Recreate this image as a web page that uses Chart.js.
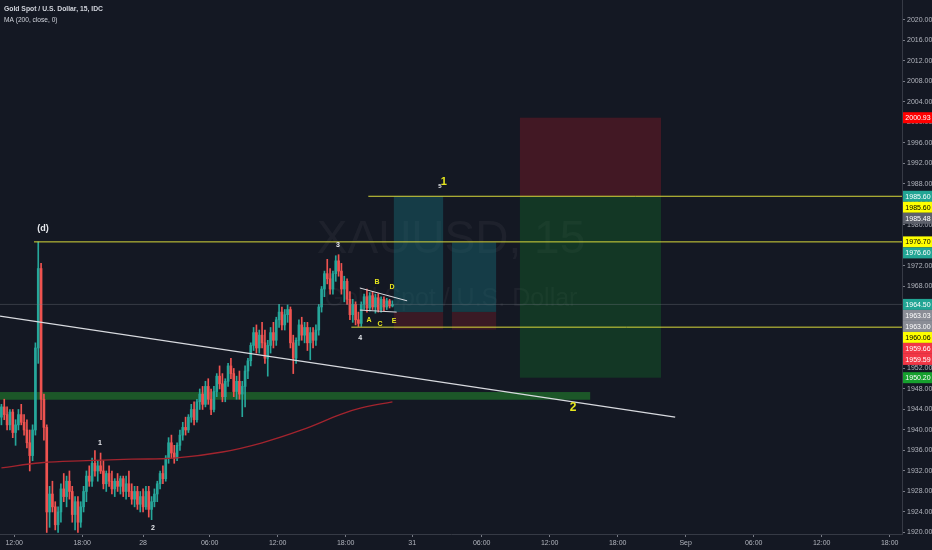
<!DOCTYPE html>
<html>
<head>
<meta charset="utf-8">
<script src="https://cdn.jsdelivr.net/npm/chart.js@4.4.0/dist/chart.umd.min.js"></script>
<style>
html, body { margin: 0; padding: 0; background: #141823; }
#wrap { width: 932px; height: 550px; }
</style>
</head>
<body>
<div id="wrap"><canvas id="chart" width="932" height="550"></canvas></div>
<script>
// --- 1. DATA (15 min bars, XAUUSD) ---
const opens = [1942.5,1944.5,1943,1941,1943.5,1939.5,1941,1943,1941.5,1940,1937.5,1935,1940,1956,1971.5,1946,1940.5,1924,1927.5,1925,
  1921.5,1924,1928.5,1927,1930,1928,1923.5,1926,1922,1925,1928,1931,1930,1933.5,1932,1933,1932,1929.5,1931.5,1930,
  1928.5,1930,1929,1930.5,1928,1929.5,1928,1926.5,1928,1925.5,1927,1925,1928,1924.5,1926,1927.5,1929.5,1931.5,1930.5,1934.5,
  1937.5,1935.5,1934.5,1937,1939,1940.5,1940,1942.5,1944,1942,1945.5,1947,1945,1948.5,1946,1944,1947.5,1950.5,1949,1946.5,
  1949.5,1952.5,1951,1947.5,1949.5,1947,1948.5,1951.5,1953.5,1956.5,1959,1956,1958.5,1957,1954,1956.5,1959,1957.5,1961.5,1963,
  1960.5,1962.5,1963.5,1957,1954,1957.5,1960.5,1958.5,1960,1957,1959,1957.5,1959.5,1964,1967.5,1970.5,1969.5,1967.5,1970.5,1973,
  1971,1967.5,1969,1965.5,1962.5,1964.5,1961.5,1960.8,1964.5,1966,1963.8,1966.2,1964,1965.8,1963.5,1965.5,1964,1965.2,1964.2];
const highs = [1945,1946,1944.5,1944,1944,1942,1944,1945,1943,1942,1940,1941,1957,1976.7,1972.5,1947,1941,1929,1930,1926,
  1925,1929.5,1931.5,1931,1932,1929,1927,1927,1926,1929,1932,1933,1934.5,1936,1934,1935.5,1934,1932,1933,1932,
  1930.5,1931.5,1931,1931,1931,1932,1929.5,1929,1929,1928,1928.5,1929,1929,1927,1928.5,1930,1932,1933,1935,1938.5,
  1939,1937,1937.5,1940,1941.5,1942.5,1943,1945,1945.5,1946,1948,1948.5,1949.5,1950,1948,1948.5,1951,1952.5,1951,1950,
  1953,1954,1952,1950.5,1951.5,1949.5,1952.5,1954,1957,1960,1960.5,1959.5,1961,1959.5,1957.5,1960,1961,1962,1964.5,1964,
  1963.5,1964.4,1964,1958.5,1958,1961.5,1962,1961,1961,1960,1960,1960.5,1964.5,1968,1971,1973.3,1971.5,1971,1974,1974.2,
  1972.5,1970,1969.5,1967,1965.5,1965,1963,1965,1966.5,1967.5,1966.8,1967,1966.5,1966.6,1966,1966,1965.7,1965.5,1965.2];
const lows = [1941,1942,1940,1940,1938.5,1937,1940,1941,1939,1936.5,1932,1934,1939,1953,1942,1938,1920,1921,1924,1920.5,
  1920,1922,1926,1925,1926.5,1922,1920.5,1920,1921,1924,1926,1929,1929,1931,1930,1931.5,1928.5,1928,1929,1927.5,
  1927,1928,1927.5,1927,1926.5,1927,1925.5,1925,1924.5,1924,1924,1924.5,1923,1922.5,1925,1926,1928.5,1929.5,1930,1933.5,
  1934.5,1933.5,1934,1936,1938,1939,1939.5,1941.5,1941,1941.5,1944,1944,1944.5,1945,1943,1943.5,1946.5,1948,1945.5,1945.5,
  1948.5,1950,1946.5,1946,1946,1942.6,1944.5,1950,1952.5,1955.5,1955,1955,1956,1953,1950.5,1955,1956,1956.5,1960,1959.5,
  1959.5,1961,1956,1951,1953,1956.5,1957.5,1957,1955.5,1953.7,1956,1956.5,1958.5,1963,1966,1968.5,1966.5,1966.5,1969,1970,
  1966.5,1965,1964.5,1961.5,1961,1960.5,1960.2,1960.2,1963.5,1963,1963.2,1963.5,1962.8,1963,1963,1963.3,1963.5,1963.8,1964];
const closes = [1944.5,1943,1941,1943.5,1939.5,1941,1943,1941.5,1940,1937.5,1935,1940,1956,1971.5,1946,1940.5,1924,1927.5,1925,1921.5,
  1924,1928.5,1927,1930,1928,1923.5,1926,1922,1925,1928,1931,1930,1933.5,1932,1933,1932,1929.5,1931.5,1930,1928.5,
  1930,1929,1930.5,1928,1929.5,1928,1926.5,1928,1925.5,1927,1925,1928,1924.5,1926,1927.5,1929.5,1931.5,1930.5,1934.5,1937.5,
  1935.5,1934.5,1937,1939,1940.5,1940,1942.5,1944,1942,1945.5,1947,1945,1948.5,1946,1944,1947.5,1950.5,1949,1946.5,1949.5,
  1952.5,1951,1947.5,1949.5,1947,1948.5,1951.5,1953.5,1956.5,1959,1956,1958.5,1957,1954,1956.5,1959,1957.5,1961.5,1963,1960.5,
  1962.5,1963.5,1957,1954,1957.5,1960.5,1958.5,1960,1957,1959,1957.5,1959.5,1964,1967.5,1970.5,1969.5,1967.5,1970.5,1973,1971,
  1967.5,1969,1965.5,1962.5,1964.5,1961.5,1960.8,1964.5,1966,1963.8,1966.2,1964,1965.8,1963.5,1965.5,1964,1965.2,1964.2,1964.5];

// MA(200) read at a few bars
const maBars = [0, 14, 30, 46, 61, 78, 92, 106, 120, 127, 138];
const maValues = [1932.6, 1933.6, 1934.0, 1934.3, 1934.5, 1935.7, 1937.5, 1940.0, 1943.1, 1944.3, 1945.5];

// axis ticks
const yTicks = [1920,1924,1928,1932,1936,1940,1944,1948,1952,1956,1960,1964,1968,1972,1976,1980,1984,1988,1992,1996,2000,2004,2008,2012,2016,2020];
const xTickBars = [5, 29, 50.5, 74, 98, 122, 145.5, 170, 194, 218, 242, 266, 290, 314];
const xTickLabels = ['12:00','18:00','28','06:00','12:00','18:00','31','06:00','12:00','18:00','Sep','06:00','12:00','18:00'];

// price labels on the right axis
const badgeValues = [2000.93, 1985.60, 1985.60, 1985.48, 1976.70, 1976.60, 1964.50, 1963.03, 1963.00, 1960.06, 1959.66, 1959.59, 1950.20];
const badgeColors = ['#ff0000','#22a594','#ffff00','#5d606b','#ffff00','#22a594','#22a594','#8a8d96','#8a8d96','#ffff00','#f23645','#f23645','#16a02e'];
const badgeText   = ['#fff','#fff','#000','#fff','#000','#fff','#fff','#fff','#fff','#000','#fff','#fff','#fff'];

// drawings
const levels = [ { v: 1985.60, from: 130 }, { v: 1976.70, from: 12 }, { v: 1960.06, from: 124 } ];
const X_MAX = 318.35;
const Y_MIN = 1919.7, Y_MAX = 2023.9;

// --- 2. HELPERS ---
const up = '#26a69a', down = '#ef5350';
const candleColors = closes.map((c, i) => c >= opens[i] ? up : down);

function lineSet(points, color, width) {
    return { type: 'line', data: points, borderColor: color, borderWidth: width,
             pointRadius: 0, fill: false, tension: 0, order: 1 };
}

const datasets = [];
// wicks + bodies
datasets.push({ type: 'bar', data: lows.map((l, i) => ({ x: i + 0.5, y: [l, highs[i]] })),
    backgroundColor: candleColors, barThickness: 1, grouped: false, order: 3 });
datasets.push({ type: 'bar', data: opens.map((o, i) => ({ x: i + 0.5, y: [o, closes[i]] })),
    backgroundColor: candleColors, barThickness: 2, grouped: false, minBarLength: 1, order: 2 });
// MA
datasets.push(Object.assign(lineSet(maBars.map((b, i) => ({ x: b + 0.5, y: maValues[i] })), '#a3242e', 1.3), { tension: 0.4 }));
// current price line
datasets.push(lineSet([{ x: 0, y: 1964.5 }, { x: X_MAX, y: 1964.5 }], 'rgba(120,123,134,0.35)', 1));
// yellow levels
levels.forEach(l => datasets.push(lineSet([{ x: l.from, y: l.v }, { x: X_MAX, y: l.v }], '#d8d83a', 1)));
// trend line + triangle
datasets.push(lineSet([{ x: 0, y: 1962.2 }, { x: 238.3, y: 1942.5 }], '#d8dadf', 1.2));
datasets.push(lineSet([{ x: 127, y: 1967.7 }, { x: 143.7, y: 1965.2 }], '#d8dadf', 1));
datasets.push(lineSet([{ x: 127, y: 1963.4 }, { x: 140, y: 1963.0 }], '#d8dadf', 1));

// boxes: position tool zones + support band
const boxes = [
    { x0: 0, x1: 208.3, top: 1947.4, bottom: 1945.9, color: 'rgba(35,140,45,0.55)' },
    { x0: 139, x1: 156.4, top: 1985.6, bottom: 1963.0, color: 'rgba(23,115,125,0.4)' },
    { x0: 139, x1: 156.4, top: 1963.0, bottom: 1959.66, color: 'rgba(140,30,45,0.32)' },
    { x0: 159.5, x1: 175.1, top: 1976.6, bottom: 1963.03, color: 'rgba(23,115,125,0.4)' },
    { x0: 159.5, x1: 175.1, top: 1963.03, bottom: 1959.59, color: 'rgba(140,30,45,0.32)' },
    { x0: 183.5, x1: 233.3, top: 2000.93, bottom: 1985.6, color: 'rgba(160,25,40,0.33)' },
    { x0: 183.5, x1: 233.3, top: 1985.6, bottom: 1950.2, color: 'rgba(20,120,45,0.32)' }
];

const notes = [
    { x: 15.2, y: 1979.4, t: '(d)', c: '#e6e8ec', s: 9, w: 'bold' },
    { x: 35.3, y: 1937.5, t: '1', c: '#e6e8ec', s: 7, w: 'bold' },
    { x: 54, y: 1920.9, t: '2', c: '#e6e8ec', s: 7, w: 'bold' },
    { x: 119.3, y: 1976.1, t: '3', c: '#e6e8ec', s: 7, w: 'bold' },
    { x: 127.1, y: 1958.0, t: '4', c: '#e6e8ec', s: 7, w: 'bold' },
    { x: 155.3, y: 1987.6, t: '5', c: '#e6e8ec', s: 6, w: 'bold' },
    { x: 156.6, y: 1988.3, t: '1', c: '#e6e61e', s: 11, w: 'bold' },
    { x: 202.3, y: 1944.3, t: '2', c: '#e6e61e', s: 12, w: 'bold' },
    { x: 130.2, y: 1961.5, t: 'A', c: '#e6e61e', s: 7, w: 'bold' },
    { x: 133.1, y: 1968.9, t: 'B', c: '#e6e61e', s: 7, w: 'bold' },
    { x: 134.1, y: 1960.7, t: 'C', c: '#e6e61e', s: 7, w: 'bold' },
    { x: 138.4, y: 1967.9, t: 'D', c: '#e6e61e', s: 7, w: 'bold' },
    { x: 139.1, y: 1961.3, t: 'E', c: '#e6e61e', s: 7, w: 'bold' }
];

const FONT = '"Liberation Sans", Arial, sans-serif';

// --- 3. PLUGINS ---
const drawingsPlugin = {
    id: 'drawings',
    beforeDraw(chart) {
        const { ctx, width, height, chartArea: a } = chart;
        ctx.save();
        ctx.fillStyle = '#141823';
        ctx.fillRect(0, 0, width, height);
        // watermark
        ctx.fillStyle = 'rgba(255,255,255,0.045)';
        ctx.textAlign = 'center';
        ctx.textBaseline = 'middle';
        const cx = (a.left + a.right) / 2;
        ctx.font = '46px ' + FONT;
        ctx.fillText('XAUUSD, 15', cx, 240);
        ctx.font = '25px ' + FONT;
        ctx.fillText('Gold Spot / U.S. Dollar', cx, 299);
        ctx.restore();
    },
    beforeDatasetsDraw(chart) {
        const { ctx, scales: { x, y } } = chart;
        ctx.save();
        boxes.forEach(b => {
            const x0 = x.getPixelForValue(b.x0), x1 = x.getPixelForValue(b.x1);
            const y0 = y.getPixelForValue(b.top), y1 = y.getPixelForValue(b.bottom);
            ctx.fillStyle = b.color;
            ctx.fillRect(x0, y0, x1 - x0, y1 - y0);
        });
        ctx.restore();
    },
    afterDatasetsDraw(chart) {
        const { ctx, scales: { x, y } } = chart;
        ctx.save();
        ctx.textAlign = 'center';
        ctx.textBaseline = 'middle';
        notes.forEach(n => {
            ctx.font = n.w + ' ' + n.s + 'px ' + FONT;
            ctx.fillStyle = n.c;
            ctx.fillText(n.t, x.getPixelForValue(n.x), y.getPixelForValue(n.y));
        });
        ctx.restore();
    },
    afterDraw(chart) {
        const { ctx, scales: { y } } = chart;
        ctx.save();
        // legend
        ctx.textAlign = 'left';
        ctx.textBaseline = 'middle';
        ctx.fillStyle = '#d1d4dc';
        ctx.font = 'bold 6.8px ' + FONT;
        ctx.fillText('Gold Spot / U.S. Dollar, 15, IDC', 4, 9);
        ctx.font = '6.6px ' + FONT;
        ctx.fillText('MA (200, close, 0)', 4, 20);
        // right axis price badges, stacked like TradingView does
        const h = 11;
        let last = -100;
        const left = y.left + 1;
        badgeValues.forEach((v, i) => {
            let cy = y.getPixelForValue(v);
            if (cy - last < h) cy = last + h;
            last = cy;
            ctx.fillStyle = badgeColors[i];
            ctx.fillRect(left, cy - h / 2, 932 - left, h);
            ctx.fillStyle = badgeText[i];
            ctx.font = '7px ' + FONT;
            ctx.textAlign = 'center';
            ctx.fillText(v.toFixed(2), left + 15, cy + 0.5);
        });
        ctx.restore();
    }
};

// --- 4. CHART ---
new Chart(document.getElementById('chart'), {
    data: { datasets: datasets },
    options: {
        responsive: false,
        animation: false,
        layout: { padding: 0 },
        plugins: { legend: { display: false }, tooltip: { enabled: false } },
        scales: {
            x: {
                type: 'linear', min: 0, max: X_MAX, offset: false,
                afterFit: s => { s.height = 16; s.paddingLeft = 0; s.paddingRight = 0; },
                afterBuildTicks: s => { s.ticks = xTickBars.map(v => ({ value: v })); },
                grid: { display: true, drawOnChartArea: false, drawTicks: true, tickLength: 3, color: '#787b86', offset: false },
                border: { display: true, color: '#363a45' },
                ticks: { autoSkip: false, maxRotation: 0, padding: 2, color: '#b2b5be',
                         font: { family: FONT, size: 7 },
                         callback: (v, i) => xTickLabels[i] }
            },
            y: {
                type: 'linear', position: 'right', min: Y_MIN, max: Y_MAX,
                afterFit: s => { s.width = 30; s.paddingTop = 0; s.paddingBottom = 0; },
                afterBuildTicks: s => { s.ticks = yTicks.map(v => ({ value: v })); },
                grid: { display: true, drawOnChartArea: false, drawTicks: true, tickLength: 3, color: '#787b86' },
                border: { display: true, color: '#363a45' },
                ticks: { padding: 2, color: '#b2b5be', font: { family: FONT, size: 7 },
                         callback: v => Number(v).toFixed(2) }
            }
        }
    },
    plugins: [drawingsPlugin]
});
</script>
</body>
</html>
